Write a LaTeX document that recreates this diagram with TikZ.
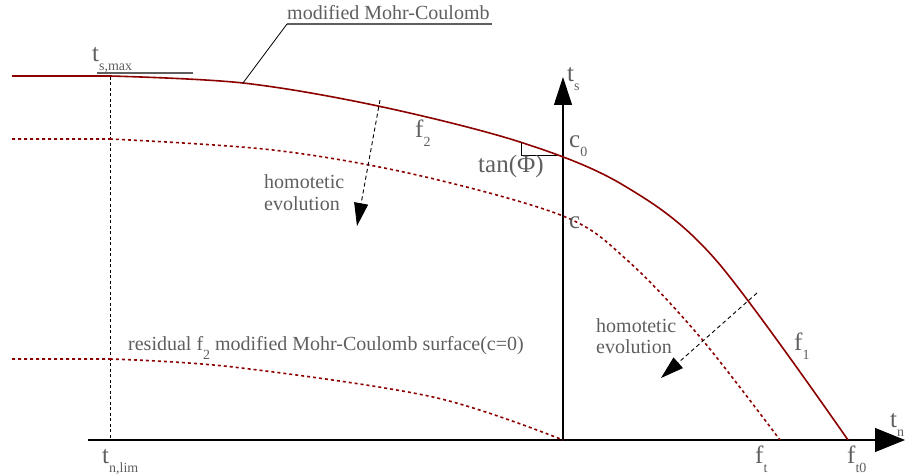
\documentclass[tikz,border=0pt]{standalone}
\usepackage{fontspec}
\setmainfont{Liberation Serif}
\usepackage{tikz}
\usetikzlibrary{arrows.meta}
\definecolor{yieldred}{RGB}{140,0,0}
\definecolor{lblgray}{RGB}{95,95,95}
\newcommand{\subfnt}{\fontsize{14pt}{14pt}\selectfont}
\newcommand{\lsub}[2]{#1\raisebox{-9pt}{\subfnt #2}}

\begin{document}
\begin{tikzpicture}[x=1pt, y=-1pt,
  every node/.style={inner sep=0pt, anchor=base west, text=lblgray},
  sym/.style={font=\fontsize{25pt}{25pt}\selectfont},
  txt/.style={font=\fontsize{20pt}{21pt}\selectfont, align=left},
  yield/.style={yieldred, line width=1.6pt},
  yielddot/.style={yieldred, line width=1.6pt, dash pattern=on 3pt off 3pt},
  axis/.style={black, line width=1.1pt},
  thin line/.style={black, line width=0.8pt},
  limline/.style={black, line width=0.9pt, dash pattern=on 3pt off 2.5pt},
  evol/.style={black, line width=0.9pt, dash pattern=on 4pt off 3pt, -{Triangle[length=23pt,width=14pt]}},
  uline/.style={lblgray, line width=1.1pt},
  ]
  \useasboundingbox (0,0) rectangle (908,476);

  % axes
  \coordinate (O) at (563,440);
  \coordinate (tsend) at (563,77);
  \coordinate (tnstart) at (88,440);
  \coordinate (tnend) at (905,440);
  \draw[axis, -{Triangle[length=28pt,width=18pt]}] (O) -- (tsend);
  \draw[axis, -{Triangle[length=30pt,width=24pt]}] (tnstart) -- (tnend);

  % t_n,lim
  \coordinate (limtop) at (110,77);
  \coordinate (limbot) at (110,440);
  \draw[limline] (limtop) -- (limbot);

  % yield surfaces
  \draw[yield] (12,76) -- (110,76) plot[smooth, tension=0.55] coordinates {(110,76) (243,83) (378,106) (520,142) (623,185) (715,259) (848,440)};
  \draw[yielddot] (12,139) -- (110,139) plot[smooth, tension=0.55] coordinates {(110,139) (273,150) (417,175) (563,216) (627,260) (700,337) (780,440)};
  \draw[yielddot] (12,359) -- (110,359) plot[smooth, tension=0.55] coordinates {(110,359) (233,367) (433,397) (563,440)};

  % slope
  \coordinate (sl1) at (521,143);
  \coordinate (sl2) at (521,155);
  \coordinate (sl3) at (557,155);
  \draw[thin line] (sl1) -- (sl2) -- (sl3);

  % evolution arrows
  \coordinate (e1s) at (380,100);
  \coordinate (e1e) at (357,226);
  \draw[evol] (e1s) -- (e1e);
  \coordinate (e2s) at (757,293);
  \coordinate (e2e) at (661,378);
  \draw[evol] (e2s) -- (e2e);

  % labels
  \node[txt] (mmc) at (287,20) {modified Mohr-Coulomb};
  \coordinate (mmcl) at (287,24);
  \coordinate (mmcr) at (492,24);
  \coordinate (lead) at (243,83);
  \draw[uline] (mmcl) -- (mmcr);
  \draw[thin line] (mmcl) -- (lead);

  \node[sym] (tsmax) at (92,62) {\lsub{t}{s,max}};
  \coordinate (tsl) at (97,73);
  \coordinate (tsr) at (193,73);
  \draw[uline] (tsl) -- (tsr);
  \node[sym] (tnlim) at (102,463) {\lsub{t}{n,lim}};
  \node[sym] (ts) at (567,82) {\lsub{t}{s}};
  \node[sym] (tn) at (890,427) {\lsub{t}{n}};
  \node[sym] (f2) at (415,138) {\lsub{f}{2}};
  \node[sym] (c0) at (569,148) {\lsub{c}{0}};
  \node[sym] (c) at (569,228) {c};
  \node[sym] (f1) at (794,350) {\lsub{f}{1}};
  \node[sym] (ft) at (755,463) {\lsub{f}{t}};
  \node[sym] (ft0) at (847,463) {\lsub{f}{t0}};
  \node[sym] (tanphi) at (478,172) {tan(Φ)};

  \node[txt] (hom1) at (264,210) {homotetic\\evolution};
  \node[txt] (hom2) at (596,353) {homotetic\\evolution};
  \node[txt] (resid) at (128,350) {residual \lsub{f}{2} modified Mohr-Coulomb surface(c=0)};
\end{tikzpicture}
\end{document}
